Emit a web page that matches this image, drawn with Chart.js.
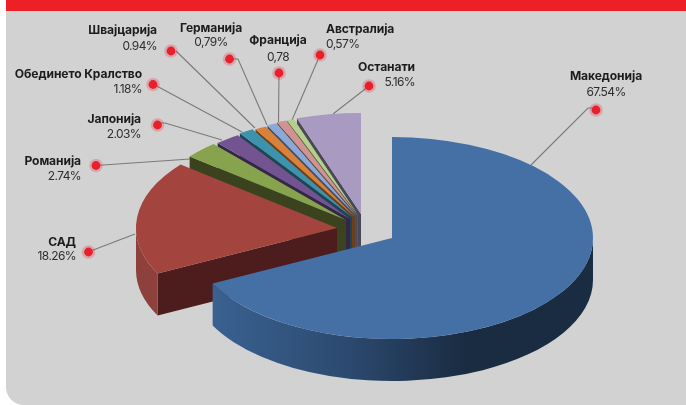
<!DOCTYPE html>
<html>
<head>
<meta charset="utf-8">
<style>
html,body{margin:0;padding:0;background:#fff;width:686px;height:405px;overflow:hidden}
#panel{position:absolute;left:6px;top:0;width:680px;height:405px;background:#d2d2d2;border-bottom-left-radius:18px;overflow:hidden}
#band{position:absolute;left:0;top:0;width:100%;height:11px;background:#ee2027}
#wrap{position:absolute;left:0;top:0;width:686px;height:405px}
</style>
</head>
<body>
<div id="panel"><div id="band"></div></div>
<div id="wrap"><canvas id="c" width="686" height="405"></canvas></div>
<script src="https://cdn.jsdelivr.net/npm/chart.js@4"></script>
<script>
const categories = ['Македонија','САД','Романија','Јапонија','Обединето Кралство','Швајцарија','Германија','Франција','Австралија','Останати'];
const shares = [67.54,18.26,2.74,2.03,1.18,0.94,0.79,0.78,0.57,5.16];
const shareLabels = ['67.54%','18.26%','2.74%','2.03%','1.18%','0.94%','0,79%','0,78','0,57%','5.16%'];

const topColors = ['#4470a6','#a4443f','#87a34d','#735490','#3d93ad','#d98138','#8ba9d6','#d19391','#b3cf8b','#a89ac0'];
const sideColors = ['#2c4a70','#4d1c1c','#3a431e','#352647','#1c4656','#6b3f1a','#424f68','#5c4645','#525e3f','#4a4858'];
const rimColors = [null,'#8d403c',null,null,null,null,null,null,null,null];

// Slice layout: apex of each exploded slice on the page, pie flattening and thickness.
const apex = [[392,238],[337,228],[346,220],[350,219],[352,217],[355,217],[356.5,216],[357,215],[358,215],[361,214]];
const RADIUS = 201, FLAT = 0.5025, DEPTH = 42;

// Callouts: dot, leader polyline, text anchor.
const callouts = [
 {dot:[596,110], path:[[596,108],[588,108],[531,165]], align:'center', x:606, y:[76,92]},
 {dot:[88.5,252], path:[[88,252],[135,234]], align:'right', x:76, y:[242,256]},
 {dot:[96,165.5], path:[[96,165.5],[190,159]], align:'right', x:81, y:[161,176]},
 {dot:[157.5,125], path:[[157,123],[165,123],[222,140]], align:'right', x:141, y:[119,134]},
 {dot:[153,84.5], path:[[153,84],[242,132]], align:'right', x:142, y:[74,89]},
 {dot:[171,51], path:[[176,51],[255,128]], align:'right', x:157, y:[30,46]},
 {dot:[229.5,59], path:[[232,59],[238,59],[267,125]], align:'center', x:211, y:[28,42]},
 {dot:[279,73], path:[[279,73],[278.5,122]], align:'center', x:278, y:[40,57]},
 {dot:[320,55], path:[[320,55],[292,120]], align:'left', x:326, y:[29,44]},
 {dot:[369,86], path:[[369,86],[333,114]], align:'right', x:415, y:[67,82]}
];

function placeSlice(ctx, arc, i){
  ctx.translate(apex[i][0], apex[i][1]);
  ctx.scale(1, FLAT);
  ctx.translate(-arc.x, -arc.y);
}

const pie3d = {
  id:'pie3d',
  beforeDatasetsDraw(chart){
    const ctx = chart.ctx;
    const arcs = chart.getDatasetMeta(0).data;
    // leaders under the slices
    ctx.save();
    ctx.strokeStyle = '#7a7a7a'; ctx.lineWidth = 1.1;
    callouts.forEach(c=>{
      ctx.beginPath();
      c.path.forEach((p,j)=> j ? ctx.lineTo(p[0],p[1]) : ctx.moveTo(p[0],p[1]));
      ctx.stroke();
    });
    ctx.restore();
    // back to front
    for(let i=arcs.length-1;i>=0;i--){
      const arc = arcs[i];
      const [ax,ay] = apex[i];
      const ry = RADIUS*FLAT;
      const a0 = arc.startAngle, a1 = arc.endAngle;
      // straight wall on the leading edge
      const sx = ax+Math.cos(a0)*RADIUS, sy = ay+Math.sin(a0)*ry;
      ctx.save();
      ctx.fillStyle = sideColors[i];
      ctx.beginPath();
      ctx.moveTo(ax,ay); ctx.lineTo(sx,sy); ctx.lineTo(sx,sy+DEPTH); ctx.lineTo(ax,ay+DEPTH); ctx.closePath();
      ctx.fill();
      // rim wall on the front half of the ellipse
      const lo = Math.max(a0,0), hi = Math.min(a1,Math.PI);
      if(hi>lo){
        if(i===0){
          const g = ctx.createLinearGradient(213,0,593,0);
          g.addColorStop(0,'#3a6191');
          g.addColorStop(0.35,'#2c4a70');
          g.addColorStop(0.66,'#1a2c42');
          g.addColorStop(1,'#1a2c42');
          ctx.fillStyle = g;
        } else {
          ctx.fillStyle = rimColors[i] || sideColors[i];
        }
        ctx.beginPath();
        ctx.ellipse(ax,ay,RADIUS,ry,0,lo,hi,false);
        ctx.ellipse(ax,ay+DEPTH,RADIUS,ry,0,hi,lo,true);
        ctx.closePath();
        ctx.fill();
      }
      ctx.restore();
      // top face, drawn by the library's arc element
      ctx.save();
      placeSlice(ctx,arc,i);
      arc.draw(ctx);
      ctx.restore();
    }
    return false;
  },
  afterDraw(chart){
    const ctx = chart.ctx;
    ctx.save();
    callouts.forEach((c,i)=>{
      ctx.fillStyle = 'rgba(233,31,44,0.24)';
      ctx.beginPath(); ctx.arc(c.dot[0],c.dot[1],6.8,0,Math.PI*2); ctx.fill();
      ctx.fillStyle = '#e91f2c';
      ctx.beginPath(); ctx.arc(c.dot[0],c.dot[1],4.4,0,Math.PI*2); ctx.fill();
      ctx.textAlign = c.align; ctx.textBaseline = 'middle';
      ctx.fillStyle = '#1c1c1c';
      ctx.font = '700 12.1px Inter';
      ctx.letterSpacing = '-0.1px';
      ctx.fillText(categories[i], c.x, c.y[0]);
      ctx.fillStyle = '#2e2e2e';
      ctx.font = '400 12px Inter';
      ctx.letterSpacing = '-0.6px';
      ctx.fillText(shareLabels[i], c.x, c.y[1]);
    });
    ctx.restore();
  }
};

new Chart(document.getElementById('c'),{
  type:'pie',
  data:{labels:categories,datasets:[{data:shares,backgroundColor:topColors,borderWidth:0}]},
  options:{
    responsive:false,animation:false,radius:RADIUS,
    layout:{padding:0},
    plugins:{legend:{display:false},tooltip:{enabled:false}}
  },
  plugins:[pie3d]
});
</script>
</body>
</html>
